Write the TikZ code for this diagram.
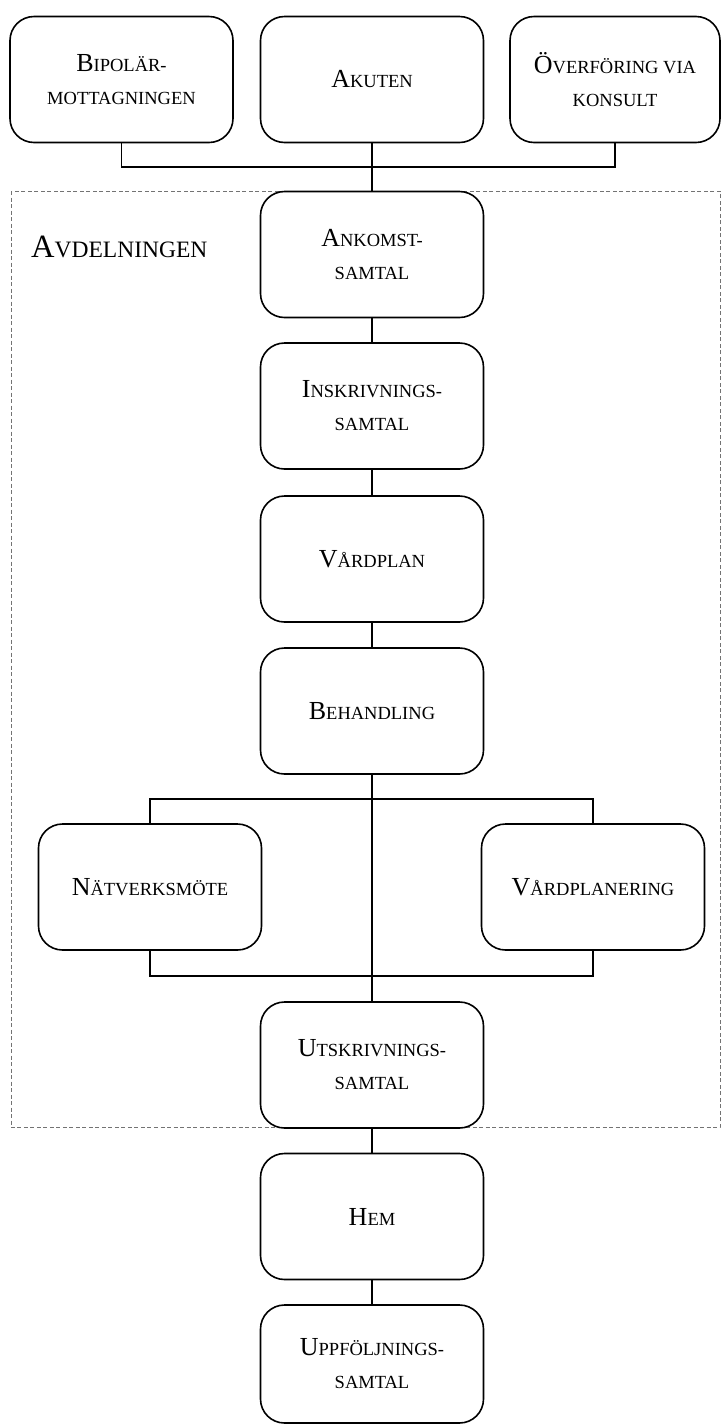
\documentclass[tikz,border=0pt]{standalone}
\usepackage{fontspec}
\setmainfont{Liberation Serif}
% small caps by hand: first letter large, rest small
\newcommand{\smcap}[2]{{\fontsize{26}{33}\selectfont #1}#2}
\begin{document}
\begin{tikzpicture}[
		x=1pt, y=-1pt,
		region/.style={
				draw=black!55,
				line width=0.8pt,
				dash pattern=on 4pt off 2.5pt
			},
		stepbox/.style={
				draw=black,
				fill=white,
				line width=1.6pt,
				shape=rectangle,
				rounded corners=24pt,
				minimum width=223pt,
				minimum height=126pt,
				align=center,
				inner sep=0pt,
				font=\fontsize{18.5}{33}\selectfont
			},
		link/.style={
				draw=black,
				line width=1.6pt
			},
	]
	\useasboundingbox (0, 0) rectangle (721, 1425);
	\draw [region] (11, 191) rectangle (720, 1127);
	\node [anchor=base west, inner sep=0pt, font=\fontsize{23.5}{30}\selectfont] (avd) at (31, 257) {{\fontsize{32.5}{36}\selectfont A}VDELNINGEN};
	\node [stepbox] (bip) at (121.5, 79.5) {\smcap{B}{IPOLÄR-}\\MOTTAGNINGEN};
	\node [stepbox] (akut) at (372, 79.5) {\smcap{A}{KUTEN}};
	\node [stepbox, minimum width=210pt] (ovf) at (615, 79.5) {\smcap{Ö}{VERFÖRING VIA}\\KONSULT};
	\node [stepbox] (ank) at (372, 254.5) {\smcap{A}{NKOMST-}\\SAMTAL};
	\node [stepbox] (ins) at (372, 406) {\smcap{I}{NSKRIVNINGS-}\\SAMTAL};
	\node [stepbox] (vpl) at (372, 559) {\smcap{V}{ÅRDPLAN}};
	\node [stepbox] (beh) at (372, 711) {\smcap{B}{EHANDLING}};
	\node [stepbox] (natv) at (150, 887) {\smcap{N}{ÄTVERKSMÖTE}};
	\node [stepbox] (vplan) at (593, 887) {\smcap{V}{ÅRDPLANERING}};
	\node [stepbox] (utsk) at (372, 1065) {\smcap{U}{TSKRIVNINGS-}\\SAMTAL};
	\node [stepbox] (hem) at (372, 1216.5) {\smcap{H}{EM}};
	\node [stepbox, minimum height=118pt] (uppf) at (372, 1364) {\smcap{U}{PPFÖLJNINGS-}\\SAMTAL};
	\coordinate (topjoin) at (372, 167);
	\coordinate (splitA) at (372, 799);
	\coordinate (splitB) at (372, 976);
	\draw [link] (bip.south) |- (topjoin) -| (ovf.south);
	\draw [link] (akut.south) -- (ank.north);
	\draw [link] (ank) -- (ins);
	\draw [link] (ins) -- (vpl);
	\draw [link] (vpl) -- (beh);
	\draw [link] (beh.south) -- (utsk.north);
	\draw [link] (natv.north) |- (splitA) -| (vplan.north);
	\draw [link] (natv.south) |- (splitB) -| (vplan.south);
	\draw [link] (utsk) -- (hem);
	\draw [link] (hem) -- (uppf);
\end{tikzpicture}
\end{document}
